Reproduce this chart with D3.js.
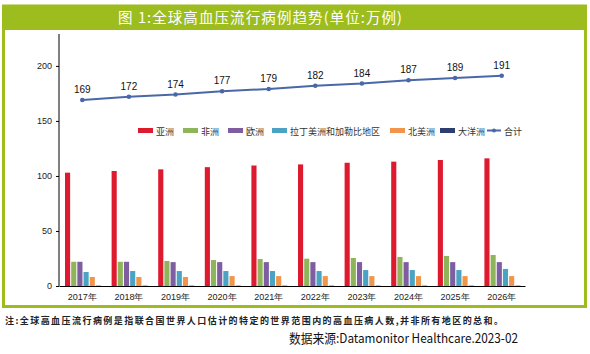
<!DOCTYPE html>
<html>
<head>
<meta charset="utf-8">
<script src="https://cdn.jsdelivr.net/npm/d3@7"></script>
<style>
  body { margin: 0; background: #fff; }
  svg { display: block; font-family: "Noto Sans CJK SC", "Liberation Sans", sans-serif; }
</style>
</head>
<body>
<div id="chart"></div>
<script>
// data (单位:万例)
const years = ["2017年","2018年","2019年","2020年","2021年","2022年","2023年","2024年","2025年","2026年"];
const seriesNames = ["亚洲","非洲","欧洲","拉丁美洲和加勒比地区","北美洲","大洋洲"];
const asia      = [103, 104.5, 106, 108, 109.5, 110.5, 112, 113, 114.5, 116];
const africa    = [22, 22, 22.7, 23.6, 24.5, 24.8, 25.5, 26.4, 27.3, 28.2];
const europe    = [22, 22, 21.7, 21.7, 21.7, 21.7, 21.7, 21.7, 21.7, 21.7];
const latam     = [12.7, 13.6, 13.6, 13.6, 13.6, 13.6, 14.5, 14.5, 14.5, 15.5];
const northAm   = [8.2, 8.2, 8.2, 9, 9, 9, 9, 9, 9, 9];
const oceania   = [0.3, 0.3, 0.3, 0.3, 0.3, 0.3, 0.3, 0.3, 0.3, 0.3];
const total     = [169, 172, 174, 177, 179, 182, 184, 187, 189, 191];
const yTicks    = [0, 50, 100, 150, 200];

const colors = ["#de1a2e", "#8fb55a", "#7e5ea0", "#4ba3c3", "#f0954a", "#2e3e6e"];
const lineColor = "#4a68a8";
const green = "#9dbd1f";

const W = 590, H = 354;
const svg = d3.select("#chart").append("svg").attr("width", W).attr("height", H);

// frame + title bar
svg.append("rect").attr("x", 3.5).attr("y", 6).attr("width", 582).attr("height", 300.5)
  .attr("fill", "#fff").attr("stroke", green).attr("stroke-width", 3);
svg.append("rect").attr("x", 2).attr("y", 5).attr("width", 585).attr("height", 25).attr("fill", green);
svg.append("text").attr("x", 260).attr("y", 23).attr("text-anchor", "middle")
  .attr("fill", "#fff").attr("font-size", 14.5)
  .attr("textLength", 284).attr("lengthAdjust", "spacing")
  .text("图 1:全球高血压流行病例趋势(单位:万例)");

// scales
const x = d3.scaleBand().domain(years).range([59, 525]);
const inner = d3.scaleBand().domain(seriesNames).range([6, 42]).paddingInner(0.17);
const y = d3.scaleLinear().domain([0, 229]).range([286, 34]);

// y axis
const yAxis = svg.append("g").attr("transform", "translate(59,0)")
  .call(d3.axisLeft(y).tickValues(yTicks).tickSize(3).tickPadding(4));
yAxis.select(".domain").attr("stroke", "#000").attr("d", "M0,34V286");
yAxis.selectAll("text").attr("font-size", 9).attr("fill", "#222").attr("font-family", "Liberation Sans, sans-serif");

// x axis
const xAxis = svg.append("g").attr("transform", "translate(0,286)")
  .call(d3.axisBottom(x).tickSize(0).tickPadding(8));
xAxis.select(".domain").attr("stroke", "#000").attr("stroke-width", 1.2);
xAxis.selectAll("text").attr("font-size", 9).attr("fill", "#222");

// bars
const series = [asia, africa, europe, latam, northAm, oceania];
series.forEach((vals, si) => {
  svg.append("g").selectAll("rect")
    .data(vals)
    .join("rect")
    .attr("x", (d, i) => x(years[i]) + inner(seriesNames[si]))
    .attr("y", d => y(d))
    .attr("width", inner.bandwidth())
    .attr("height", d => y(0) - y(d))
    .attr("fill", colors[si]);
});

// total line
const line = d3.line()
  .x((d, i) => x(years[i]) + x.bandwidth() / 2)
  .y(d => y(d));
svg.append("path").datum(total).attr("d", line)
  .attr("fill", "none").attr("stroke", lineColor).attr("stroke-width", 2);
svg.append("g").selectAll("circle").data(total).join("circle")
  .attr("cx", (d, i) => x(years[i]) + x.bandwidth() / 2)
  .attr("cy", d => y(d)).attr("r", 2.3).attr("fill", lineColor);
svg.append("g").selectAll("text").data(total).join("text")
  .attr("x", (d, i) => x(years[i]) + x.bandwidth() / 2)
  .attr("y", d => y(d) - 7)
  .attr("text-anchor", "middle").attr("font-size", 10)
  .attr("font-family", "Liberation Sans, sans-serif").attr("fill", "#111")
  .text(d => d);

// legend
const legendItems = [
  {name: "亚洲", x: 138}, {name: "非洲", x: 183}, {name: "欧洲", x: 228},
  {name: "拉丁美洲和加勒比地区", x: 272}, {name: "北美洲", x: 390}, {name: "大洋洲", x: 440}
];
const lg = svg.append("g");
legendItems.forEach((it, i) => {
  lg.append("rect").attr("x", it.x).attr("y", 128).attr("width", 15).attr("height", 5).attr("fill", colors[i]);
  lg.append("text").attr("x", it.x + 18).attr("y", 134.5).attr("font-size", 9).attr("fill", "#333").text(it.name);
});
lg.append("line").attr("x1", 487).attr("x2", 501).attr("y1", 130.5).attr("y2", 130.5)
  .attr("stroke", lineColor).attr("stroke-width", 2);
lg.append("circle").attr("cx", 494).attr("cy", 130.5).attr("r", 2).attr("fill", lineColor);
lg.append("text").attr("x", 504).attr("y", 134.5).attr("font-size", 9).attr("fill", "#333").text("合计");

// notes
svg.append("text").attr("x", 5).attr("y", 324).attr("font-size", 9).attr("font-weight", "bold")
  .attr("fill", "#222").attr("textLength", 498).attr("lengthAdjust", "spacing")
  .text("注:全球高血压流行病例是指联合国世界人口估计的特定的世界范围内的高血压病人数,并非所有地区的总和。");
svg.append("text").attr("x", 289).attr("y", 343)
  .attr("font-size", 13).attr("fill", "#111")
  .attr("textLength", 229).attr("lengthAdjust", "spacingAndGlyphs")
  .text("数据来源:Datamonitor Healthcare.2023-02");
</script>
</body>
</html>
